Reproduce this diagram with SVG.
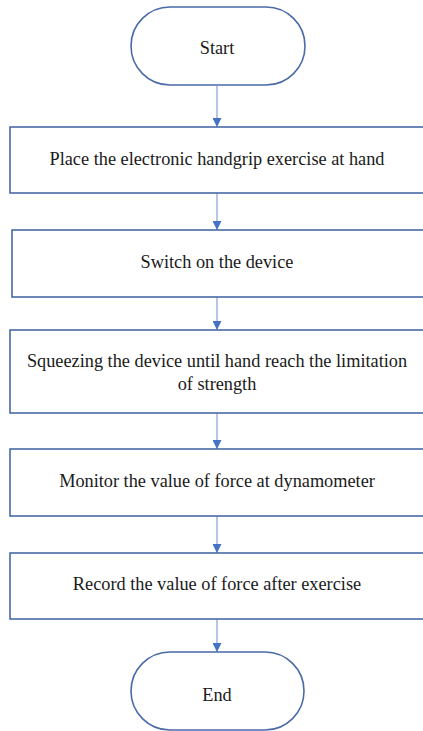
<svg xmlns="http://www.w3.org/2000/svg" width="423" height="731" viewBox="0 0 423 731">
<defs>
<marker id="ah" viewBox="0 0 10 10" refX="10" refY="5" markerWidth="9" markerHeight="9" markerUnits="userSpaceOnUse" orient="auto">
<path d="M0,0 L10,5 L0,10 z" fill="#4472C4"/>
</marker>
</defs>
<style>
.box{fill:#ffffff;stroke:#4a6aa8;stroke-width:1.6}
.term{fill:#ffffff;stroke:#4a6aa8;stroke-width:1.6}
.lbl{font-family:"Liberation Serif","Times New Roman",serif;font-size:18.3px;fill:#1a1a1a;text-anchor:middle}
.conn{stroke:#9db3e0;stroke-width:1.5;fill:none;marker-end:url(#ah)}
</style>
<rect width="423" height="731" fill="#ffffff"/>
<g id="connectors">
<line class="conn" x1="217" y1="86" x2="217" y2="127"/>
<line class="conn" x1="217" y1="193" x2="217" y2="230"/>
<line class="conn" x1="217" y1="297" x2="217" y2="330"/>
<line class="conn" x1="217" y1="413" x2="217" y2="449"/>
<line class="conn" x1="217" y1="516" x2="217" y2="553"/>
<line class="conn" x1="217" y1="619" x2="217" y2="652"/>
</g>
<g id="start">
<rect class="term" x="131" y="7" width="174" height="78" rx="39" ry="39"/>
<text class="lbl" x="217" y="54">Start</text>
</g>
<g id="step1">
<rect class="box" x="10" y="127" width="430" height="66"/>
<text class="lbl" x="217" y="165">Place the electronic handgrip exercise at hand</text>
</g>
<g id="step2">
<rect class="box" x="12" y="230" width="430" height="67"/>
<text class="lbl" x="217" y="268">Switch on the device</text>
</g>
<g id="step3">
<rect class="box" x="10" y="330" width="430" height="83"/>
<text class="lbl" x="217" y="367">Squeezing the device until hand reach the limitation</text>
<text class="lbl" x="217" y="390">of strength</text>
</g>
<g id="step4">
<rect class="box" x="10" y="449" width="430" height="67"/>
<text class="lbl" x="217" y="487">Monitor the value of force at dynamometer</text>
</g>
<g id="step5">
<rect class="box" x="10" y="553" width="430" height="66"/>
<text class="lbl" x="217" y="590">Record the value of force after exercise</text>
</g>
<g id="end">
<rect class="term" x="131" y="652" width="173" height="78" rx="39" ry="39"/>
<text class="lbl" x="217" y="701">End</text>
</g>
</svg>
